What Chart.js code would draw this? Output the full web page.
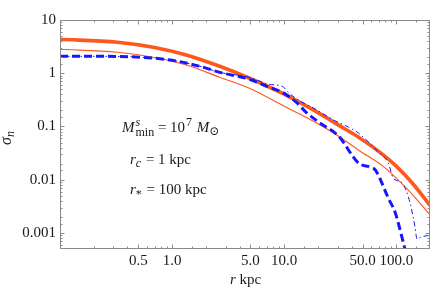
<!DOCTYPE html>
<html>
<head>
<meta charset="utf-8">
<script src="https://cdn.jsdelivr.net/npm/chart.js@4.4.1/dist/chart.umd.min.js"></script>
<style>
  html, body { margin: 0; padding: 0; background: #fff; }
  #wrap { width: 436px; height: 290px; }
</style>
</head>
<body>
<div id="wrap"><canvas id="c" width="436" height="290"></canvas></div>
<script>
'use strict';

// ── Data ────────────────────────────────────────────────────────────────────

// thick solid orange
const rOrangeThick = [0.1, 0.326, 0.679, 1.36, 2.66, 4.9, 10, 20.4, 30.6, 46.1, 74, 100, 140, 200];
const sOrangeThick = [4.34, 3.82, 3.07, 2.18, 1.35, 0.806, 0.404, 0.178, 0.106, 0.063, 0.031, 0.018, 0.0085, 0.0033];

// thin solid orange
const rOrangeThin = [0.1, 0.326, 0.679, 1.36, 2.66, 4.9, 10, 20.4, 30.6, 46.1, 74, 128, 200];
const sOrangeThin = [2.82, 2.48, 2.0, 1.41, 0.84, 0.523, 0.24, 0.11, 0.0658, 0.0359, 0.0188, 0.0064, 0.0022];

// thick dashed blue
const rBlueThick = [0.1, 0.231, 0.521, 1, 1.77, 2.66, 4.9, 7.37, 9.6, 12.8, 15.7, 20.4, 30.6, 46.1, 58.9, 65.2, 85, 98, 111, 120];
const sBlueThick = [2.08, 2.08, 2.0, 1.75, 1.35, 1.04, 0.77, 0.546, 0.44, 0.286, 0.185, 0.12, 0.0658, 0.0205, 0.0172, 0.0151, 0.0045, 0.0024, 0.00092, 0.00048];

// thin dash-dot blue
const rBlueThin = [0.1, 0.231, 0.521, 1, 1.77, 2.66, 4.9, 7.37, 9.6, 11.1, 14.4, 17.7, 28.8, 37.6, 46.1, 69.3, 85, 94, 111, 122, 133, 147, 153, 166, 200];
const sBlueThin = [2.08, 2.08, 2.0, 1.75, 1.35, 1.04, 0.84, 0.62, 0.57, 0.42, 0.286, 0.23, 0.126, 0.097, 0.075, 0.033, 0.0205, 0.0107, 0.009, 0.0064, 0.0036, 0.0013, 0.00077, 0.00084, 0.00091];

const X_MIN = 0.1, X_MAX = 200;
const Y_MIN = 0.0005, Y_MAX = 10;
const xLabelled = [0.5, 1, 5, 10, 50, 100];

const ORANGE = 'rgb(255,88,28)';
const BLUE = 'rgb(22,22,255)';
const SERIF = '"Liberation Serif", "DejaVu Serif", serif';

// ── Helpers ─────────────────────────────────────────────────────────────────

const pts = (xs, ys) => xs.map((x, i) => ({ x, y: ys[i] }));

function isPow10(v) {
  const l = Math.log10(v);
  return Math.abs(l - Math.round(l)) < 1e-6;
}

function isXMajor(v) {
  return xLabelled.some(m => Math.abs(m - v) / m < 1e-6);
}

function rich(ctx, x, y, parts) {
  for (const p of parts) {
    ctx.font = p.f;
    ctx.fillText(p.t, x, y + (p.dy || 0));
    if (!p.stay) x += ctx.measureText(p.t).width + (p.gap || 0);
  }
}

const it15 = 'italic 15px ' + SERIF;
const n15 = '15px ' + SERIF;
const it12 = 'italic 12px ' + SERIF;
const n12 = '12px ' + SERIF;

// ── Frame, inward ticks and texts ───────────────────────────────────────────

const framePlugin = {
  id: 'frame',
  afterDraw(chart) {
    const { ctx, chartArea: a } = chart;
    const xs = chart.scales.x, ys = chart.scales.y;
    ctx.save();
    ctx.strokeStyle = '#8a8a8a';
    ctx.lineWidth = 1;
    ctx.strokeRect(Math.round(a.left) + 0.5, Math.round(a.top) + 0.5,
      Math.round(a.right - a.left) - 1, Math.round(a.bottom - a.top) - 1);

    ctx.beginPath();
    xs.ticks.forEach(t => {
      const px = Math.round(xs.getPixelForValue(t.value)) + 0.5;
      if (px < a.left + 1 || px > a.right - 1) return;
      const len = isXMajor(t.value) ? 4.5 : 2.5;
      ctx.moveTo(px, a.bottom); ctx.lineTo(px, a.bottom - len);
      ctx.moveTo(px, a.top); ctx.lineTo(px, a.top + len);
    });
    ys.ticks.forEach(t => {
      const py = Math.round(ys.getPixelForValue(t.value)) + 0.5;
      if (py < a.top + 1 || py > a.bottom - 1) return;
      const len = isPow10(t.value) ? 4.5 : 2.5;
      ctx.moveTo(a.left, py); ctx.lineTo(a.left + len, py);
      ctx.moveTo(a.right, py); ctx.lineTo(a.right - len, py);
    });
    ctx.stroke();

    ctx.fillStyle = '#1a1a1a';
    ctx.textBaseline = 'alphabetic';
    ctx.textAlign = 'left';

    // axis titles
    rich(ctx, 230, 284, [{ t: 'r', f: it15 }, { t: ' kpc', f: n15 }]);
    ctx.save();
    ctx.translate(11, 145);
    ctx.rotate(-Math.PI / 2);
    rich(ctx, 0, 0, [{ t: 'σ', f: 'italic 16px ' + SERIF }, { t: 'n', f: it12, dy: 3 }]);
    ctx.restore();

    // parameter notes
    rich(ctx, 122, 132, [
      { t: 'M', f: it15, gap: 1 }, { t: 's', f: it12, dy: -6, stay: true }, { t: 'min', f: n12, dy: 4 },
      { t: ' = 10', f: n15, gap: 1 }, { t: '7', f: n12, dy: -6, gap: 1 },
      { t: ' M', f: it15 }, { t: '⊙', f: n12, dy: 3 }
    ]);
    rich(ctx, 130, 164, [
      { t: 'r', f: it15 }, { t: 'c', f: it12, dy: 3, gap: 1 }, { t: ' = 1 kpc', f: n15 }
    ]);
    rich(ctx, 130, 194, [
      { t: 'r', f: it15 }, { t: '*', f: n12, dy: 4, gap: 1 }, { t: ' = 100 kpc', f: n15 }
    ]);
    ctx.restore();
  }
};

// ── Chart ───────────────────────────────────────────────────────────────────

const lineBase = { pointRadius: 0, fill: false, cubicInterpolationMode: 'monotone', borderCapStyle: 'butt' };

new Chart(document.getElementById('c'), {
  type: 'line',
  data: {
    datasets: [
      { ...lineBase, data: pts(rBlueThin, sBlueThin), borderColor: BLUE, borderWidth: 1, borderDash: [5, 3, 1.5, 3] },
      { ...lineBase, data: pts(rBlueThick, sBlueThick), borderColor: BLUE, borderWidth: 3, borderDash: [8, 4] },
      { ...lineBase, data: pts(rOrangeThin, sOrangeThin), borderColor: ORANGE, borderWidth: 1.2 },
      { ...lineBase, data: pts(rOrangeThick, sOrangeThick), borderColor: ORANGE, borderWidth: 3.6 }
    ]
  },
  options: {
    responsive: false,
    animation: false,
    events: [],
    layout: { padding: { top: 20, right: 6, left: 0, bottom: 0 } },
    plugins: { legend: { display: false }, tooltip: { enabled: false } },
    scales: {
      x: {
        type: 'logarithmic', min: X_MIN, max: X_MAX,
        grid: { display: false, drawTicks: false }, border: { display: false },
        afterFit(s) { s.height = 41; },
        ticks: {
          autoSkip: false, maxRotation: 0, padding: 3, color: '#1a1a1a',
          font: { family: SERIF, size: 15 },
          callback: v => isXMajor(v) ? Number(v).toFixed(1) : ''
        }
      },
      y: {
        type: 'logarithmic', min: Y_MIN, max: Y_MAX,
        grid: { display: false, drawTicks: false }, border: { display: false },
        afterFit(s) { s.width = 60; },
        ticks: {
          autoSkip: false, padding: 4, color: '#1a1a1a',
          font: { family: SERIF, size: 15 },
          callback: v => {
            if (!isPow10(v)) return '';
            const e = Math.round(Math.log10(v));
            return e >= 0 ? String(Math.pow(10, e)) : Math.pow(10, e).toFixed(-e);
          }
        }
      }
    }
  },
  plugins: [framePlugin]
});
</script>
</body>
</html>
